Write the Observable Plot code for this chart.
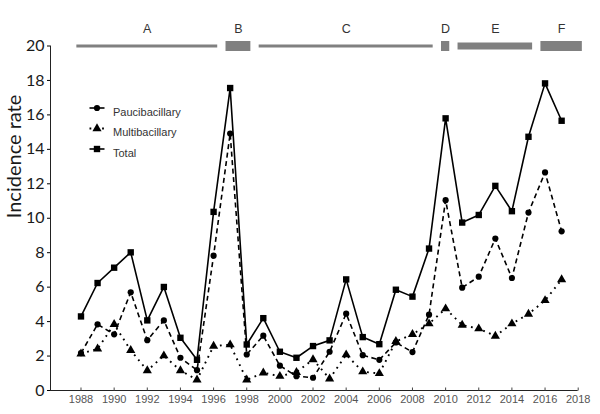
<!DOCTYPE html>
<html>
<head>
<meta charset="utf-8">
<script src="https://cdn.jsdelivr.net/npm/d3@7"></script>
<script src="https://cdn.jsdelivr.net/npm/@observablehq/plot@0.6"></script>
<style>
  html, body { margin: 0; padding: 0; background: #fff; }
  #chart svg { display: block; }
</style>
</head>
<body>
<div id="chart"></div>
<script>
// ---- data ----
const years = [1988,1989,1990,1991,1992,1993,1994,1995,1996,1997,1998,1999,2000,2001,2002,2003,2004,2005,2006,2007,2008,2009,2010,2011,2012,2013,2014,2015,2016,2017];
const paucibacillary = [2.17,3.84,3.26,5.70,2.92,4.07,1.90,1.18,7.83,14.92,2.09,3.18,1.44,0.83,0.74,2.25,4.46,2.05,1.78,2.79,2.23,4.40,11.05,5.97,6.61,8.82,6.53,10.33,12.66,9.24];
const multibacillary = [2.13,2.42,3.84,2.33,1.16,2.02,1.16,0.62,2.58,2.66,0.62,1.03,0.83,1.06,1.80,0.68,2.08,1.09,0.99,2.85,3.26,3.88,4.75,3.80,3.59,3.16,3.88,4.44,5.23,6.44];
const total = [4.30,6.24,7.13,8.02,4.07,6.01,3.06,1.78,10.37,17.56,2.67,4.20,2.25,1.90,2.58,2.91,6.45,3.10,2.69,5.85,5.45,8.24,15.80,9.75,10.19,11.88,10.41,14.73,17.83,15.66];
const seriesNames = ["Paucibacillary", "Multibacillary", "Total"];

const periodLabels = ["A", "B", "C", "D", "E", "F"];
const periodStart = [1987.75, 1996.75, 1998.75, 2009.75, 2010.75, 2015.75];
const periodEnd   = [1996.25, 1998.25, 2009.25, 2010.25, 2015.25, 2018.25];
const periodLevel = 20;

const xTicks = [1988,1990,1992,1994,1996,1998,2000,2002,2004,2006,2008,2010,2012,2014,2016,2018];
const yTicks = [0,2,4,6,8,10,12,14,16,18,20];
const yLabel = "Incidence rate";

// ---- styles (not data) ----
const periodThickness = {A: 3, B: 10, C: 3, D: 10, E: 7, F: 10};
const style = {
  Paucibacillary: {symbol: "circle", r: 3.1, dash: "5,3.5", width: 1.6},
  Multibacillary: {symbol: "triangle", r: 3.4, dash: "1.8,4.6", width: 1.9},
  Total: {symbol: "square", r: 3.6, dash: null, width: 1.6}
};

// ---- build tables ----
const valuesByName = {Paucibacillary: paucibacillary, Multibacillary: multibacillary, Total: total};
const rows = seriesNames.flatMap(name => years.map((year, i) => ({name, year, value: valuesByName[name][i]})));
const periods = periodLabels.map((label, i) => ({label, start: periodStart[i], end: periodEnd[i], mid: (periodStart[i] + periodEnd[i]) / 2, level: periodLevel}));

const xDomain = [1986.16, 2018];
const tickSymbol = {draw(ctx) { ctx.moveTo(0, 0); ctx.lineTo(0, -3); }};
const legendLine = {draw(ctx) { ctx.moveTo(-7.5, 0); ctx.lineTo(7.5, 0); }};

const marks = [];
// axis lines
marks.push(Plot.ruleX([xDomain[0]], {stroke: "#222", strokeWidth: 1}));
marks.push(Plot.ruleY([0], {stroke: "#222", strokeWidth: 1}));
marks.push(Plot.dot(xTicks, {x: d => d, y: () => 0, symbol: tickSymbol, stroke: "#444", strokeWidth: 1}));
marks.push(Plot.axisX({ticks: xTicks, tickSize: 0, tickPadding: 4.5, fontSize: 11, fill: "#555", tickFormat: d => String(d), label: null, fontFamily: "Liberation Sans, Arial, sans-serif"}));
marks.push(Plot.axisY({ticks: yTicks, tickSize: 3, tickPadding: 3, fontSize: 16, fill: "#1a1a1a", label: null, fontFamily: "Lato, sans-serif", tickFormat: d => String(d)}));
marks.push(Plot.text([yLabel], {frameAnchor: "left", dx: -36, rotate: -90, fontSize: 20, fill: "#1a1a1a", fontFamily: "Lato, sans-serif"}));

// period bars
for (const p of periods) {
  marks.push(Plot.ruleY([p], {x1: "start", x2: "end", y: "level", stroke: "#808080", strokeWidth: periodThickness[p.label], strokeLinecap: "butt"}));
}
marks.push(Plot.text(periods, {x: "mid", y: "level", text: "label", dy: -17, fontSize: 12.5, fill: "#333"}));

// series lines and markers
for (const name of seriesNames) {
  const s = style[name];
  const data = rows.filter(d => d.name === name);
  marks.push(Plot.line(data, {x: "year", y: "value", stroke: "#000", strokeWidth: s.width, strokeDasharray: s.dash, strokeLinecap: "butt"}));
}
for (const name of seriesNames) {
  const s = style[name];
  const data = rows.filter(d => d.name === name);
  marks.push(Plot.dot(data, {x: "year", y: "value", symbol: s.symbol, r: s.r, fill: "#000", stroke: "none"}));
}

// legend
seriesNames.forEach((name, i) => {
  const s = style[name];
  const dy = 62 + i * 20.5;
  marks.push(Plot.dot([name], {frameAnchor: "top-left", dx: 46.5, dy, symbol: legendLine, stroke: "#000", strokeWidth: s.width, strokeDasharray: name === "Multibacillary" ? "1.8,4.5" : null, fill: "none"}));
  marks.push(Plot.dot([name], {frameAnchor: "top-left", dx: 46.5, dy, symbol: s.symbol, r: s.r, fill: "#000", stroke: "none"}));
  marks.push(Plot.text([name], {frameAnchor: "top-left", dx: 62.5, dy, text: d => d, textAnchor: "start", fontSize: 11, fill: "#333"}));
});

const chart = Plot.plot({
  width: 600,
  height: 414,
  marginLeft: 50,
  marginRight: 22.3,
  marginTop: 45.5,
  marginBottom: 24,
  style: {fontFamily: "Liberation Sans, Arial, sans-serif", background: "#fff", overflow: "visible"},
  x: {domain: xDomain},
  y: {domain: [0, 20]},
  marks
});
document.getElementById("chart").appendChild(chart);
</script>
</body>
</html>
